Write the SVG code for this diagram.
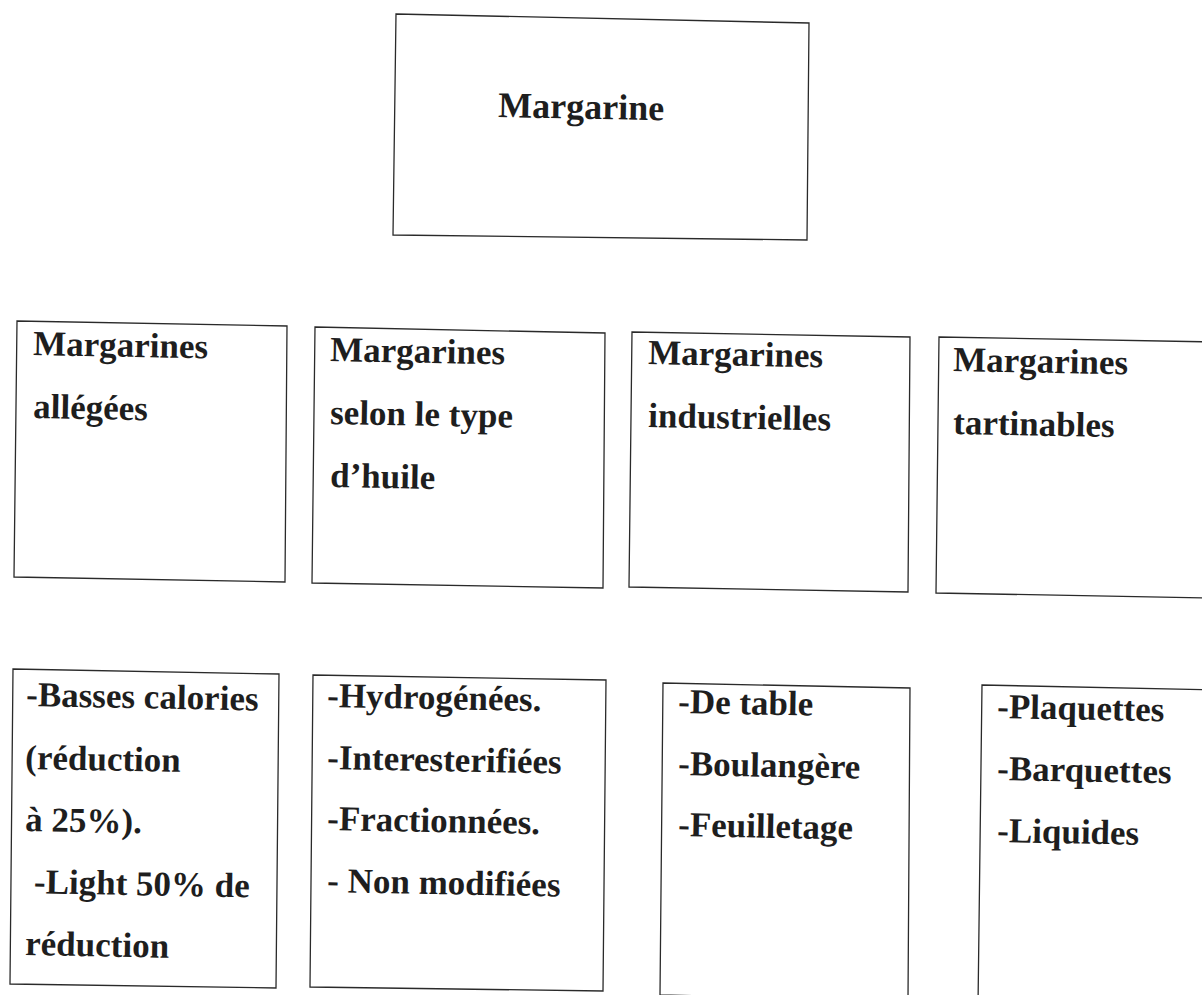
<svg xmlns="http://www.w3.org/2000/svg" width="1202" height="995" viewBox="0 0 1202 995">
  <style>
    .box { fill: #ffffff; stroke: #2a2a2a; stroke-width: 1.3; }
    .t { font-family: "Liberation Serif", "Times New Roman", serif; font-weight: bold; font-size: 35px; fill: #1e1e1e; white-space: pre; }
    .title { font-size: 36px; }
  </style>
  <rect width="1202" height="995" fill="#ffffff"/>

  <!-- root node -->
  <g id="margarine">
    <path class="box" d="M396,14 L809,23 L807,240 L393,235 Z"/>
    <text class="t title" x="498" y="117" transform="rotate(1.1 498 117)">Margarine</text>
  </g>

  <!-- categories -->
  <g id="cat-allegees">
    <path class="box" d="M17,321 L287,326 L285,582 L14,577 Z"/>
    <text class="t" x="33" y="355" transform="rotate(1.1 33 355)">Margarines</text>
    <text class="t" x="33" y="418" transform="rotate(1.1 33 418)">allégées</text>
  </g>
  <g id="cat-huile">
    <path class="box" d="M315,327 L605,333 L603,588 L312,583 Z"/>
    <text class="t" x="330" y="361" transform="rotate(1.1 330 361)">Margarines</text>
    <text class="t" x="330" y="424" transform="rotate(1.1 330 424)">selon le type</text>
    <text class="t" x="330" y="487" transform="rotate(1.1 330 487)">d’huile</text>
  </g>
  <g id="cat-industrielles">
    <path class="box" d="M632,332 L910,337 L908,592 L629,587 Z"/>
    <text class="t" x="648" y="364" transform="rotate(1.1 648 364)">Margarines</text>
    <text class="t" x="648" y="427" transform="rotate(1.1 648 427)">industrielles</text>
  </g>
  <g id="cat-tartinables">
    <path class="box" d="M939,337 L1215,342 L1213,598 L936,593 Z"/>
    <text class="t" x="953" y="371" transform="rotate(1.1 953 371)">Margarines</text>
    <text class="t" x="953" y="434" transform="rotate(1.1 953 434)">tartinables</text>
  </g>

  <!-- sub-types -->
  <g id="types-allegees">
    <path class="box" d="M13,669 L279,674 L276,988 L10,984 Z"/>
    <text class="t" x="26" y="706" transform="rotate(1.1 26 706)">-Basses calories</text>
    <text class="t" x="25" y="769" transform="rotate(1.1 25 769)">(réduction</text>
    <text class="t" x="25" y="831" transform="rotate(1.1 25 831)">à 25%).</text>
    <text class="t" x="25" y="893" transform="rotate(1.1 25 893)" xml:space="preserve"> -Light 50% de</text>
    <text class="t" x="25" y="955" transform="rotate(1.1 25 955)">réduction</text>
  </g>
  <g id="types-huile">
    <path class="box" d="M313,675 L606,680 L603,991 L310,987 Z"/>
    <text class="t" x="327" y="707" transform="rotate(1.1 327 707)">-Hydrogénées.</text>
    <text class="t" x="327" y="769" transform="rotate(1.1 327 769)">-Interesterifiées</text>
    <text class="t" x="327" y="830" transform="rotate(1.1 327 830)">-Fractionnées.</text>
    <text class="t" x="327" y="892" transform="rotate(1.1 327 892)">- Non modifiées</text>
  </g>
  <g id="types-industrielles">
    <path class="box" d="M663,683 L910,688 L908,1000 L660,995 Z"/>
    <text class="t" x="678" y="713" transform="rotate(1.1 678 713)">-De table</text>
    <text class="t" x="678" y="775" transform="rotate(1.1 678 775)">-Boulangère</text>
    <text class="t" x="678" y="836" transform="rotate(1.1 678 836)">-Feuilletage</text>
  </g>
  <g id="types-tartinables">
    <path class="box" d="M982,685 L1215,690 L1211,1012 L978,1007 Z"/>
    <text class="t" x="997" y="718" transform="rotate(1.1 997 718)">-Plaquettes</text>
    <text class="t" x="997" y="780" transform="rotate(1.1 997 780)">-Barquettes</text>
    <text class="t" x="997" y="842" transform="rotate(1.1 997 842)">-Liquides</text>
  </g>

  <!-- no connectors are drawn between the boxes -->
  <g id="connectors"></g>
</svg>
